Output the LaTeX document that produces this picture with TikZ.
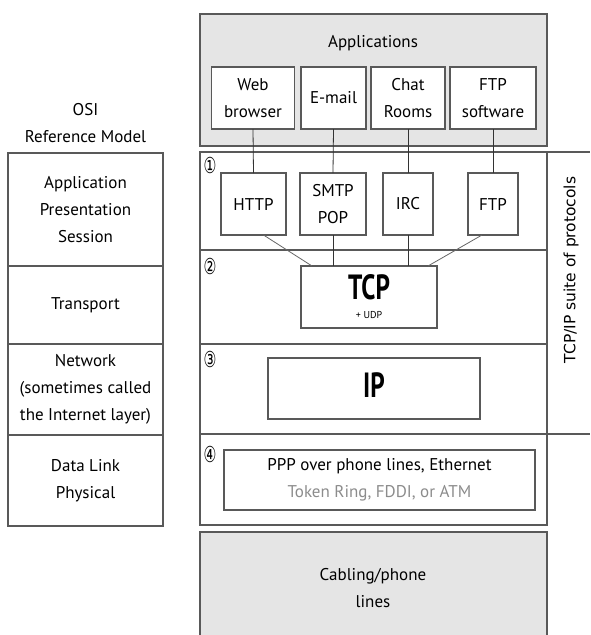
\documentclass[tikz,border=0pt]{standalone}
\usepackage{fontspec}
\usepackage{graphicx}
\setmainfont{PT Sans}
\newfontfamily\symfont{DejaVu Sans}
\newfontfamily\narrowfont[FakeStretch=0.72]{PT Sans}
\usetikzlibrary{positioning}

\begin{document}
\begin{tikzpicture}[x=1pt, y=-1pt,
  every node/.style={font=\fontsize{17}{27}\selectfont, align=center, inner sep=0pt, outer sep=0pt},
  box/.style={draw=black!65, line width=1.1pt, fill=white},
  osibox/.style={draw=black!65, line width=1.1pt, minimum width=155pt},
  layer/.style={draw=black!65, line width=1.1pt, minimum width=347pt},
  shade/.style={fill=black!10},
  wire/.style={black!80, line width=0.8pt},
  num/.style={font=\symfont\fontsize{22}{22}\selectfont},
  big/.style={font=\narrowfont\bfseries\fontsize{35}{35}\selectfont}]
	\useasboundingbox (0,0) rectangle (590,635);

	% OSI model
	\node (osititle) at (85.5,123) {OSI\\Reference Model};
	\node[osibox, minimum height=113pt, anchor=north] (osiapp) at (85.5,153) {Application\\Presentation\\Session};
	\node[osibox, minimum height=78pt, below=0pt of osiapp] (ositrans) {Transport};
	\node[osibox, minimum height=91pt, below=0pt of ositrans] (osinet) {Network\\(sometimes called\\the Internet layer)};
	\node[osibox, minimum height=91pt, below=0pt of osinet] (osilink) {Data Link\\Physical};

	% Applications
	\node[box, shade, minimum width=347pt, minimum height=132pt, anchor=north west] (apps) at (200,14) {};
	\node (appstitle) at (373,43) {Applications};
	\node[box, minimum width=83pt, minimum height=62pt] (web) at (253,98) {Web\\browser};
	\node[box, minimum width=65pt, minimum height=62pt] (email) at (333.5,98) {E-mail};
	\node[box, minimum width=74pt, minimum height=62pt] (chat) at (408,98) {Chat\\Rooms};
	\node[box, minimum width=86pt, minimum height=62pt] (ftpsw) at (493,98) {FTP\\software};

	% TCP/IP layers
	\node[layer, minimum height=98pt, anchor=north west] (lay1) at (200,152) {};
	\node[layer, minimum height=94pt, below=0pt of lay1] (lay2) {};
	\node[layer, minimum height=90pt, below=0pt of lay2] (lay3) {};
	\node[layer, minimum height=91pt, below=0pt of lay3] (lay4) {};
	\node[num] (n1) at (210,165) {\scalebox{0.65}[1]{①}};
	\node[num] (n2) at (210,266) {\scalebox{0.65}[1]{②}};
	\node[num] (n3) at (210,359) {\scalebox{0.65}[1]{③}};
	\node[num] (n4) at (210,454) {\scalebox{0.65}[1]{④}};

	% suite label
	\node[minimum width=43pt, minimum height=282pt, anchor=north west] (suite) at (547,152) {};
	\draw[draw=black!65, line width=1.1pt] (lay1.north east) -- (suite.north east);
	\draw[draw=black!65, line width=1.1pt] (lay3.south east) -- (suite.south east);
	\node[rotate=90, font=\symfont\fontsize{15.5}{16}\selectfont] (suitetext) at (571,270) {TCP/IP suite of protocols};

	% Protocols
	\node[box, minimum width=65pt, minimum height=62pt] (http) at (253.5,204) {HTTP};
	\node[box, minimum width=66pt, minimum height=62pt] (smtp) at (333,204) {SMTP\\POP};
	\node[box, minimum width=50pt, minimum height=62pt] (irc) at (408,204) {IRC};
	\node[box, minimum width=50pt, minimum height=62pt] (ftp) at (493,204) {FTP};

	\node[box, minimum width=136pt, minimum height=62pt] (tcp) at (369,297) {};
	\node[big] (tcptext) at (369,287) {TCP};
	\node[font=\fontsize{10}{12}\selectfont] (udp) at (369,315) {+ UDP};

	\node[box, minimum width=212pt, minimum height=61pt] (ip) at (374,388.5) {};
	\node[big] (iptext) at (374,385) {IP};

	\node[box, minimum width=311pt, minimum height=60pt] (link) at (379.5,480) {PPP over phone lines, Ethernet\\\textcolor{black!45}{Token Ring, FDDI, or ATM}};

	% connectors
	\draw[wire] (web.south) -- (http.north);
	\draw[wire] (email.south) -- (smtp.north);
	\draw[wire] (chat.south) -- (irc.north);
	\draw[wire] (ftpsw.south) -- (ftp.north);
	\draw[wire, black!60] ([xshift=10pt]http.south) -- ([xshift=-57pt]tcp.north);
	\draw[wire] (smtp.south) -- (smtp.south |- tcp.north);
	\draw[wire] (irc.south) -- (irc.south |- tcp.north);
	\draw[wire, black!60] ([xshift=-11pt]ftp.south) -- ([xshift=59pt]tcp.north);

	% Cabling
	\node[shade, minimum width=347pt, minimum height=110pt, anchor=north west] (cabling) at (200,532) {};
	\draw[draw=black!65, line width=1.1pt] (cabling.south west) -- (cabling.north west) -- (cabling.north east) -- (cabling.south east);
	\node (cabtext) at (373,588) {Cabling/phone\\lines};

\end{tikzpicture}
\end{document}
